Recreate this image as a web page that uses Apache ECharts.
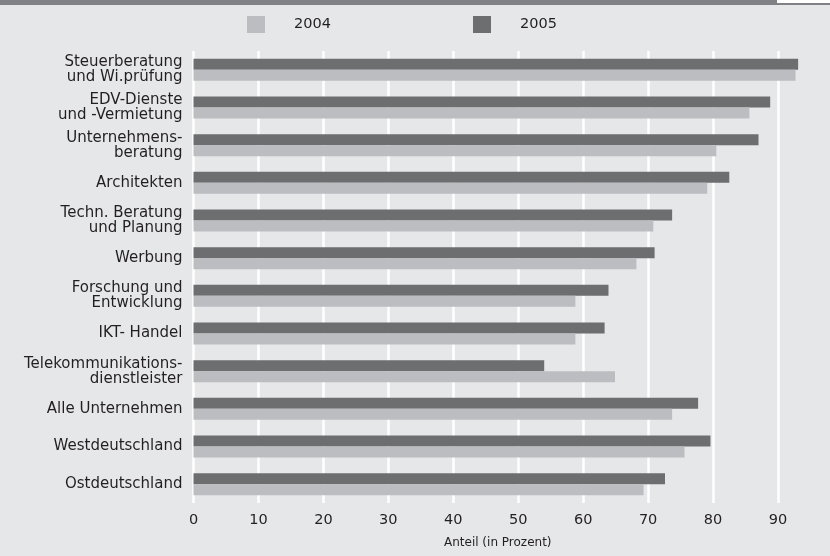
<!DOCTYPE html>
<html>
<head>
<meta charset="utf-8">
<script src="https://cdn.jsdelivr.net/npm/echarts@6/dist/echarts.min.js"></script>
<style>
  html, body { margin: 0; padding: 0; background: #e6e7e9; }
  #chart { width: 830px; height: 556px; }
</style>
</head>
<body>
<div id="chart"></div>
<script>
// categories, top to bottom
var branchen = [
    'Steuerberatung\nund Wi.prüfung',
    'EDV-Dienste\nund -Vermietung',
    'Unternehmens-\nberatung',
    'Architekten',
    'Techn. Beratung\nund Planung',
    'Werbung',
    'Forschung und\nEntwicklung',
    'IKT- Handel',
    'Telekommunikations-\ndienstleister',
    'Alle Unternehmen',
    'Westdeutschland',
    'Ostdeutschland'
];
var werte2004 = [92.7, 85.6, 80.5, 79.1, 70.8, 68.2, 58.8, 58.8, 64.9, 73.7, 75.6, 69.3];
var werte2005 = [93.1, 88.8, 87.0, 82.5, 73.7, 71.0, 63.9, 63.3, 54.0, 77.7, 79.6, 72.6];
var xTicks = [0, 10, 20, 30, 40, 50, 60, 70, 80, 90];

var textFont = 'DejaVu Sans';
var textColor = '#231f20';

var legendItem = function(name, left){
    return {
        data: [name],
        left: left,
        top: 16,
        padding: 0,
        itemWidth: 18,
        itemHeight: 17,
        icon: 'rect',
        selectedMode: false,
        textStyle: {
            fontFamily: textFont,
            fontSize: 14.5,
            color: textColor,
            padding: [0, 0, 0, 24]
        }
    };
};

var myChart = echarts.init(document.getElementById('chart'));
var option = {
    backgroundColor: '#e6e7e9',
    animation: false,
    graphic: [
        { type: 'rect', left: 0, top: 0, shape: { width: 830, height: 5 }, style: { fill: '#808184' } },
        { type: 'rect', left: 777, top: 0, shape: { width: 53, height: 3 }, style: { fill: '#ffffff' } }
    ],
    legend: [legendItem('2004', 247), legendItem('2005', 473)],
    grid: {
        left: 193.5,
        right: 52,
        top: 51,
        bottom: 53
    },
    xAxis: {
        type: 'value',
        min: xTicks[0],
        max: xTicks[xTicks.length - 1],
        interval: 10,
        name: 'Anteil (in Prozent)',
        nameLocation: 'middle',
        nameGap: 34,
        nameTextStyle: {
            fontFamily: textFont,
            fontSize: 12,
            color: textColor,
            padding: [0, 0, 0, 24]
        },
        axisLine: { show: false },
        axisTick: { show: false },
        axisLabel: {
            fontFamily: textFont,
            fontSize: 14.5,
            color: textColor,
            margin: 10
        },
        splitLine: {
            show: true,
            lineStyle: { color: '#ffffff', width: 2.5 }
        }
    },
    yAxis: {
        type: 'category',
        data: branchen,
        inverse: true,
        axisLine: { show: false },
        axisTick: { show: false },
        axisLabel: {
            fontFamily: textFont,
            fontSize: 15,
            lineHeight: 15,
            color: textColor,
            margin: 11,
            align: 'right'
        },
        splitLine: { show: false }
    },
    series: [
        {
            name: '2005',
            type: 'bar',
            data: werte2005,
            clip: false,
            barWidth: 11,
            barGap: '0%',
            itemStyle: { color: '#6d6e70' }
        },
        {
            name: '2004',
            type: 'bar',
            data: werte2004,
            clip: false,
            barWidth: 11,
            barGap: '0%',
            itemStyle: { color: '#bcbdc0' }
        }
    ]
};
myChart.setOption(option);
</script>
</body>
</html>
